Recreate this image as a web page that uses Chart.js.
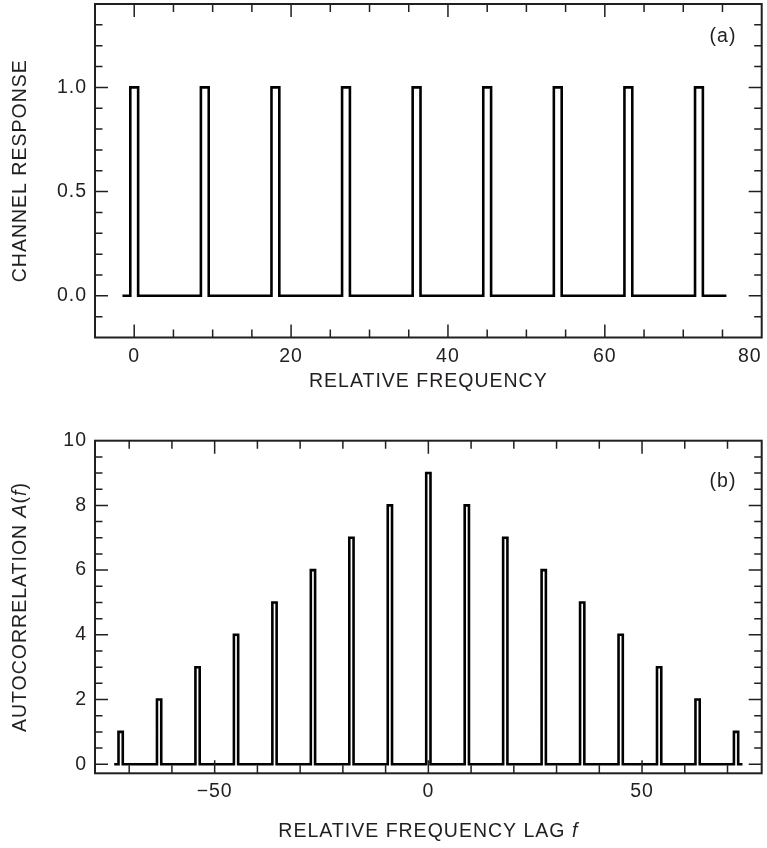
<!DOCTYPE html>
<html>
<head>
<meta charset="utf-8">
<script src="https://cdn.jsdelivr.net/npm/chart.js@4"></script>
<style>
  html, body { margin: 0; padding: 0; background: #fff; }
  #wrap { position: relative; width: 767px; height: 848px; }
  canvas { position: absolute; left: 0; }
  #chartA { top: 0; }
  #chartB { top: 410px; }
</style>
</head>
<body>
<div id="wrap">
  <canvas id="chartA" width="767" height="410"></canvas>
  <canvas id="chartB" width="767" height="438"></canvas>
</div>
<script>
// (a) channel response: one narrow band every 9 frequency units
const channelCenters = [0, 9, 18, 27, 36, 45, 54, 63, 72];
const channelLevels = [1, 1, 1, 1, 1, 1, 1, 1, 1];
const channelSpan = [-1.5, 75.5];

// (b) autocorrelation of that comb
const lagCenters = [-72, -63, -54, -45, -36, -27, -18, -9, 0, 9, 18, 27, 36, 45, 54, 63, 72];
const lagValues = [1, 2, 3, 4, 5, 6, 7, 8, 9, 8, 7, 6, 5, 4, 3, 2, 1];
const lagSpan = [-73.5, 73.5];

const bandWidth = 1;

// labelled (major) ticks
const xLabelsA = [0, 20, 40, 60, 80];
const yLabelsA = [0, 0.5, 1];
const xLabelsB = [-50, 0, 50];
const yLabelsB = [0, 2, 4, 6, 8, 10];

const ink = '#231f20';
const family = '"Liberation Sans", Arial, Helvetica, sans-serif';
const fontSize = 19.5;

Chart.defaults.font.family = family;
Chart.defaults.font.size = fontSize;
Chart.defaults.color = ink;

const titles = {
  a: {
    x: [{t: 'RELATIVE FREQUENCY', i: false}],
    y: [{t: 'CHANNEL RESPONSE', i: false}],
    tag: '(a)', tagY: 37, xTitleY: 382
  },
  b: {
    x: [{t: 'RELATIVE FREQUENCY LAG ', i: false}, {t: 'f', i: true}],
    y: [{t: 'AUTOCORRELATION ', i: false}, {t: 'A', i: true}, {t: '(', i: false}, {t: 'f', i: true}, {t: ')', i: false}],
    tag: '(b)', tagY: 72, xTitleY: 422
  }
};

function near(list, v) {
  return list.some(l => Math.abs(l - v) < 1e-6);
}

function stepTrace(centers, levels, span) {
  const pts = [{x: span[0], y: 0}];
  centers.forEach((c, i) => {
    const l = c - bandWidth / 2, r = c + bandWidth / 2;
    pts.push({x: l, y: 0}, {x: l, y: levels[i]}, {x: r, y: levels[i]}, {x: r, y: 0});
  });
  pts.push({x: span[1], y: 0});
  return pts;
}

function drawParts(ctx, parts, cx, cy) {
  const fonts = parts.map(p => (p.i ? 'italic ' : '') + fontSize + 'px ' + family);
  let total = 0;
  const widths = parts.map((p, k) => {
    ctx.font = fonts[k];
    const w = ctx.measureText(p.t).width;
    total += w;
    return w;
  });
  let x = cx - total / 2;
  ctx.textAlign = 'left';
  parts.forEach((p, k) => {
    ctx.font = fonts[k];
    ctx.fillText(p.t, x, cy);
    x += widths[k];
  });
}

// boxed frame with inward ticks, axis titles and panel tag
const framePlugin = {
  id: 'frame',
  beforeDraw(chart) {
    chart.ctx.letterSpacing = '1px';
  },
  afterDatasetsDraw(chart, args, opts) {
    const {ctx, chartArea: a, scales: {x, y}} = chart;
    const xMajor = opts.panel === 'a' ? xLabelsA : xLabelsB;
    const yMajor = opts.panel === 'a' ? yLabelsA : yLabelsB;
    ctx.save();
    ctx.strokeStyle = ink;
    ctx.lineWidth = 1.5;
    ctx.beginPath();
    x.ticks.forEach(t => {
      const p = x.getPixelForValue(t.value);
      if (p <= a.left + 1 || p >= a.right - 1) return;
      const len = near(xMajor, t.value) ? 13 : 8;
      ctx.moveTo(p, a.bottom); ctx.lineTo(p, a.bottom - len);
      ctx.moveTo(p, a.top); ctx.lineTo(p, a.top + len);
    });
    y.ticks.forEach(t => {
      const p = y.getPixelForValue(t.value);
      if (p <= a.top + 1 || p >= a.bottom - 1) return;
      const len = near(yMajor, t.value) ? 13 : 7.5;
      ctx.moveTo(a.left, p); ctx.lineTo(a.left + len, p);
      ctx.moveTo(a.right, p); ctx.lineTo(a.right - len, p);
    });
    ctx.stroke();
    ctx.lineWidth = 2;
    ctx.strokeRect(a.left, a.top, a.right - a.left, a.bottom - a.top);
    ctx.restore();
  },
  afterDraw(chart, args, opts) {
    const {ctx, chartArea: a} = chart;
    const cfg = titles[opts.panel];
    ctx.save();
    ctx.fillStyle = ink;
    ctx.textBaseline = 'middle';
    drawParts(ctx, cfg.x, (a.left + a.right) / 2, cfg.xTitleY);
    ctx.font = fontSize + 'px ' + family;
    ctx.textAlign = 'center';
    ctx.fillText(cfg.tag, 723, cfg.tagY);
    ctx.translate(20.5, (a.top + a.bottom) / 2);
    ctx.rotate(-Math.PI / 2);
    drawParts(ctx, cfg.y, 0, 0);
    ctx.restore();
  }
};

function makeChart(id, panel, points, xs, ys, pad, xHeight) {
  return new Chart(document.getElementById(id), {
    type: 'scatter',
    data: {
      datasets: [{
        data: points,
        showLine: true,
        pointRadius: 0,
        borderColor: '#000',
        borderWidth: 2.6,
        borderJoinStyle: 'miter',
        fill: false
      }]
    },
    options: {
      responsive: false,
      animation: false,
      layout: {padding: pad},
      plugins: {
        legend: {display: false},
        tooltip: {enabled: false},
        frame: {panel: panel}
      },
      scales: {
        x: {
          type: 'linear',
          min: xs.min, max: xs.max,
          grid: {display: false, drawTicks: false},
          border: {display: false},
          ticks: {
            stepSize: xs.step,
            includeBounds: false,
            autoSkip: false,
            maxRotation: 0,
            align: 'inner',
            padding: 7,
            callback: xs.format
          },
          afterFit: s => { s.height = xHeight; s.paddingLeft = 0; s.paddingRight = 0; }
        },
        y: {
          type: 'linear',
          min: ys.min, max: ys.max,
          grid: {display: false, drawTicks: false},
          border: {display: false},
          ticks: {
            stepSize: ys.step,
            includeBounds: false,
            autoSkip: false,
            padding: 8,
            callback: ys.format
          },
          afterFit: s => { s.width = 95; s.paddingTop = 0; s.paddingBottom = 0; }
        }
      }
    },
    plugins: [framePlugin]
  });
}

makeChart('chartA', 'a',
  stepTrace(channelCenters, channelLevels, channelSpan),
  {min: -5, max: 80, step: 5, format: v => near(xLabelsA, v) ? String(Math.round(v)) : ''},
  {min: -0.2, max: 1.4, step: 0.1, format: v => near(yLabelsA, v) ? (Math.abs(v) < 1e-9 ? 0 : v).toFixed(1) : ''},
  {top: 4, right: 5.3, bottom: 0, left: 0}, 72.5);

makeChart('chartB', 'b',
  stepTrace(lagCenters, lagValues, lagSpan),
  {min: -78, max: 78, step: 10, format: v => near(xLabelsB, v) ? (v < 0 ? '\u2212' + Math.abs(Math.round(v)) : String(Math.round(v))) : ''},
  {min: -0.28, max: 10, step: 0.5, format: v => near(yLabelsB, v) ? String(Math.round(v)) : ''},
  {top: 30.7, right: 5.3, bottom: 0, left: 0}, 74.7);
</script>
</body>
</html>
